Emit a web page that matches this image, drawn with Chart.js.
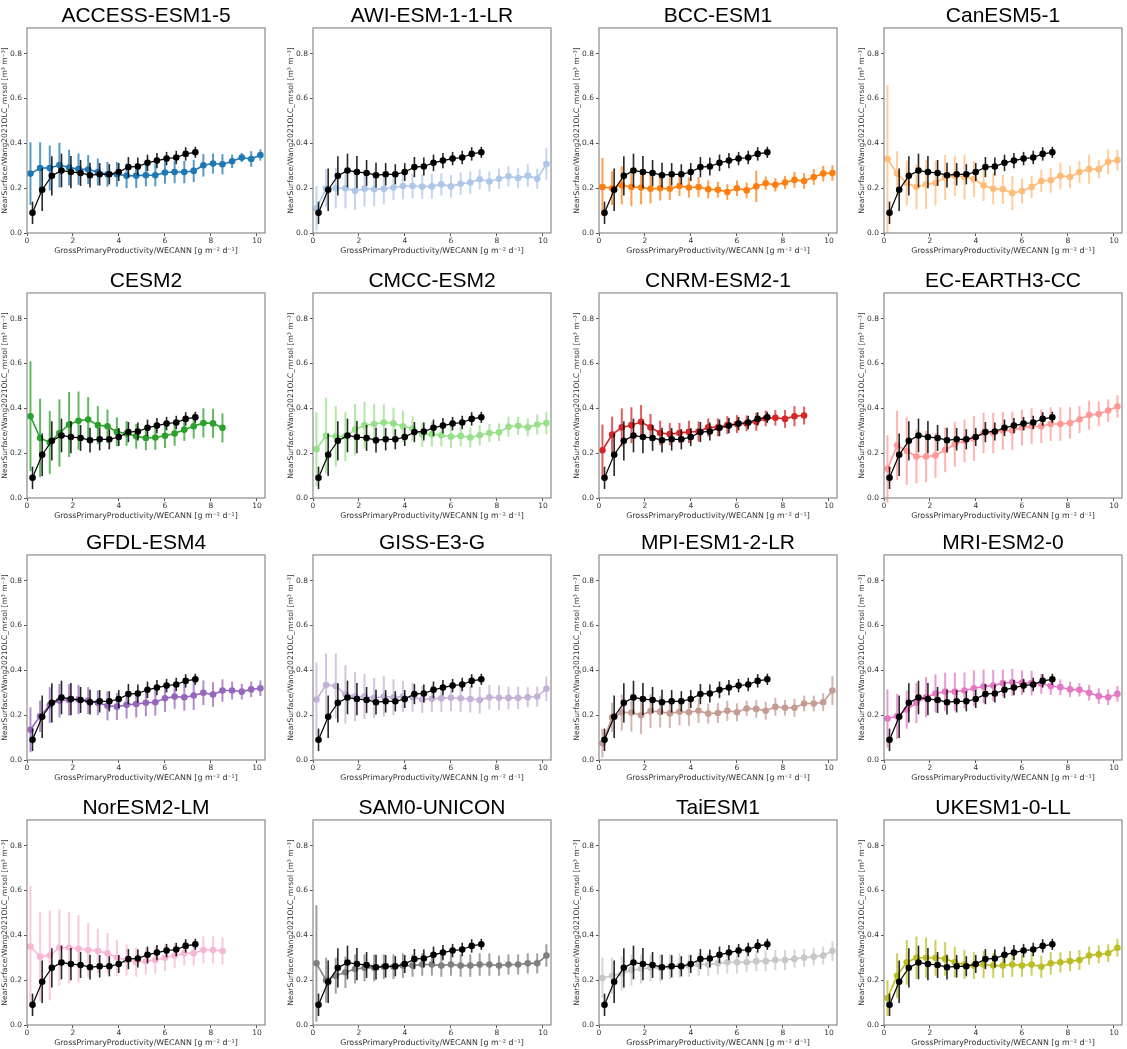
<!DOCTYPE html>
<html>
<head>
<meta charset="utf-8">
<script src="https://cdn.jsdelivr.net/npm/chart.js@4.4.1/dist/chart.umd.min.js"></script>
<style>
  body { margin: 0; background: #fff; width: 1127px; height: 1049px; position: relative; overflow: hidden; }
  .panel { position: absolute; width: 280px; height: 262px; }
</style>
</head>
<body>
<script>
// reference (WECANN) binned curve, same in every panel
const refX = [0.24, 0.66, 1.08, 1.5, 1.91, 2.33, 2.74, 3.16, 3.58, 3.99, 4.41, 4.82, 5.24, 5.65, 6.07, 6.49, 6.9, 7.32];
const refY = [0.09, 0.193, 0.255, 0.279, 0.272, 0.268, 0.258, 0.262, 0.262, 0.272, 0.294, 0.297, 0.313, 0.323, 0.332, 0.337, 0.353, 0.36];
const refErr = [0.05, 0.095, 0.088, 0.075, 0.072, 0.058, 0.055, 0.05, 0.045, 0.04, 0.045, 0.04, 0.037, 0.034, 0.03, 0.03, 0.03, 0.025];

// model bin centres
const modelX = [0.15, 0.57, 0.99, 1.41, 1.83, 2.24, 2.66, 3.08, 3.5, 3.91, 4.33, 4.75, 5.17, 5.58, 6.0, 6.42, 6.84, 7.25, 7.67, 8.09, 8.5, 8.92, 9.34, 9.75, 10.15];

const modelNames = ["ACCESS-ESM1-5", "AWI-ESM-1-1-LR", "BCC-ESM1", "CanESM5-1", "CESM2", "CMCC-ESM2", "CNRM-ESM2-1", "EC-EARTH3-CC",
  "GFDL-ESM4", "GISS-E3-G", "MPI-ESM1-2-LR", "MRI-ESM2-0", "NorESM2-LM", "SAM0-UNICON", "TaiESM1", "UKESM1-0-LL"];
const modelColors = ["#1f77b4", "#aec7e8", "#ff7f0e", "#ffbb78", "#2ca02c", "#98df8a", "#d62728", "#ff9896",
  "#9467bd", "#c5b0d5", "#c49c94", "#e377c2", "#f7b6d2", "#7f7f7f", "#c7c7c7", "#bcbd22"];

const yACCESS = [0.265, 0.29, 0.29, 0.303, 0.292, 0.285, 0.283, 0.272, 0.262, 0.262, 0.255, 0.256, 0.258, 0.258, 0.27, 0.272, 0.272, 0.277, 0.302, 0.31, 0.307, 0.32, 0.337, 0.33, 0.348];
const eACCESS = [0.14, 0.115, 0.1, 0.1, 0.08, 0.07, 0.065, 0.06, 0.055, 0.055, 0.055, 0.055, 0.05, 0.05, 0.05, 0.05, 0.05, 0.05, 0.05, 0.045, 0.045, 0.03, 0.02, 0.035, 0.025];
const yAWI = [0.11, 0.2, 0.2, 0.2, 0.188, 0.198, 0.195, 0.197, 0.203, 0.21, 0.21, 0.207, 0.208, 0.217, 0.208, 0.22, 0.225, 0.24, 0.23, 0.242, 0.253, 0.245, 0.256, 0.242, 0.308];
const eAWI = [0.1, 0.085, 0.09, 0.09, 0.085, 0.08, 0.075, 0.07, 0.055, 0.06, 0.055, 0.055, 0.055, 0.05, 0.05, 0.05, 0.05, 0.045, 0.045, 0.045, 0.045, 0.045, 0.05, 0.045, 0.07];
const yBCC = [0.205, 0.2, 0.213, 0.205, 0.203, 0.197, 0.2, 0.197, 0.21, 0.203, 0.205, 0.195, 0.193, 0.183, 0.2, 0.19, 0.208, 0.222, 0.215, 0.225, 0.237, 0.232, 0.25, 0.265, 0.268];
const eBCC = [0.13, 0.075, 0.085, 0.085, 0.075, 0.065, 0.055, 0.05, 0.045, 0.045, 0.045, 0.04, 0.035, 0.035, 0.035, 0.035, 0.07, 0.03, 0.03, 0.03, 0.035, 0.035, 0.035, 0.035, 0.035];
const yCan = [0.33, 0.265, 0.223, 0.205, 0.217, 0.223, 0.248, 0.255, 0.25, 0.24, 0.213, 0.197, 0.195, 0.178, 0.187, 0.205, 0.232, 0.235, 0.255, 0.25, 0.272, 0.285, 0.285, 0.318, 0.325];
const eCan = [0.33, 0.1, 0.1, 0.1, 0.11, 0.1, 0.1, 0.09, 0.1, 0.08, 0.07, 0.07, 0.065, 0.075, 0.055, 0.05, 0.05, 0.055, 0.06, 0.05, 0.05, 0.065, 0.04, 0.055, 0.045];
const yCESM = [0.365, 0.268, 0.248, 0.29, 0.328, 0.345, 0.35, 0.325, 0.32, 0.295, 0.288, 0.275, 0.268, 0.27, 0.278, 0.288, 0.305, 0.32, 0.335, 0.333, 0.313];
const eCESM = [0.245, 0.175, 0.14, 0.15, 0.145, 0.13, 0.1, 0.085, 0.075, 0.065, 0.055, 0.055, 0.055, 0.055, 0.055, 0.055, 0.05, 0.055, 0.065, 0.065, 0.065];
const yCMCC = [0.218, 0.278, 0.275, 0.275, 0.305, 0.325, 0.33, 0.337, 0.333, 0.32, 0.31, 0.283, 0.285, 0.28, 0.273, 0.277, 0.27, 0.28, 0.29, 0.293, 0.318, 0.322, 0.315, 0.328, 0.335];
const eCMCC = [0.165, 0.17, 0.135, 0.11, 0.115, 0.105, 0.09, 0.08, 0.07, 0.07, 0.055, 0.055, 0.055, 0.05, 0.05, 0.045, 0.045, 0.045, 0.04, 0.04, 0.045, 0.04, 0.04, 0.045, 0.05];
const yCNRM = [0.213, 0.283, 0.315, 0.325, 0.34, 0.315, 0.29, 0.285, 0.29, 0.295, 0.297, 0.315, 0.315, 0.325, 0.33, 0.333, 0.34, 0.355, 0.358, 0.353, 0.365, 0.368];
const eCNRM = [0.115, 0.08, 0.085, 0.08, 0.075, 0.06, 0.055, 0.05, 0.045, 0.05, 0.045, 0.04, 0.04, 0.04, 0.04, 0.035, 0.04, 0.035, 0.035, 0.04, 0.045, 0.04];
const yEC = [0.13, 0.235, 0.21, 0.185, 0.185, 0.19, 0.215, 0.24, 0.255, 0.265, 0.29, 0.29, 0.3, 0.3, 0.315, 0.32, 0.32, 0.33, 0.33, 0.335, 0.35, 0.37, 0.375, 0.39, 0.408];
const eEC = [0.15, 0.155, 0.15, 0.12, 0.115, 0.1, 0.1, 0.1, 0.095, 0.1, 0.09, 0.09, 0.085, 0.085, 0.08, 0.08, 0.075, 0.075, 0.075, 0.07, 0.06, 0.065, 0.055, 0.05, 0.05];
const yGFDL = [0.135, 0.195, 0.245, 0.265, 0.268, 0.27, 0.265, 0.255, 0.242, 0.238, 0.246, 0.25, 0.255, 0.258, 0.275, 0.283, 0.28, 0.288, 0.3, 0.292, 0.31, 0.31, 0.305, 0.315, 0.32];
const eGFDL = [0.1, 0.07, 0.08, 0.075, 0.07, 0.065, 0.06, 0.055, 0.065, 0.06, 0.06, 0.06, 0.06, 0.06, 0.06, 0.055, 0.06, 0.065, 0.055, 0.055, 0.05, 0.04, 0.035, 0.035, 0.035];
const yGISS = [0.27, 0.335, 0.33, 0.293, 0.283, 0.283, 0.277, 0.283, 0.28, 0.283, 0.28, 0.27, 0.273, 0.275, 0.278, 0.275, 0.272, 0.268, 0.28, 0.278, 0.277, 0.277, 0.28, 0.283, 0.318];
const eGISS = [0.165, 0.14, 0.145, 0.13, 0.11, 0.1, 0.09, 0.09, 0.08, 0.07, 0.065, 0.06, 0.06, 0.06, 0.06, 0.06, 0.06, 0.06, 0.055, 0.055, 0.05, 0.05, 0.045, 0.045, 0.055];
const yMPI = [0.075, 0.19, 0.212, 0.212, 0.2, 0.218, 0.215, 0.208, 0.215, 0.213, 0.22, 0.207, 0.21, 0.22, 0.213, 0.23, 0.228, 0.22, 0.237, 0.233, 0.233, 0.252, 0.252, 0.258, 0.31];
const eMPI = [0.065, 0.065, 0.08, 0.085, 0.085, 0.075, 0.07, 0.065, 0.06, 0.06, 0.055, 0.045, 0.045, 0.045, 0.04, 0.035, 0.04, 0.04, 0.04, 0.035, 0.04, 0.035, 0.035, 0.04, 0.065];
const yMRI = [0.185, 0.195, 0.225, 0.255, 0.28, 0.297, 0.305, 0.305, 0.31, 0.32, 0.328, 0.332, 0.343, 0.347, 0.345, 0.343, 0.34, 0.33, 0.325, 0.315, 0.313, 0.3, 0.285, 0.28, 0.295];
const eMRI = [0.13, 0.1, 0.085, 0.09, 0.09, 0.085, 0.085, 0.085, 0.08, 0.08, 0.075, 0.07, 0.06, 0.06, 0.055, 0.055, 0.045, 0.04, 0.035, 0.035, 0.03, 0.035, 0.035, 0.035, 0.035];
const yNor = [0.35, 0.305, 0.31, 0.345, 0.345, 0.34, 0.335, 0.33, 0.32, 0.3, 0.29, 0.28, 0.285, 0.29, 0.3, 0.31, 0.32, 0.32, 0.335, 0.335, 0.33];
const eNor = [0.27, 0.2, 0.2, 0.17, 0.16, 0.15, 0.12, 0.1, 0.09, 0.08, 0.07, 0.065, 0.06, 0.06, 0.06, 0.055, 0.055, 0.055, 0.06, 0.06, 0.06];
const ySAM = [0.275, 0.2, 0.22, 0.235, 0.25, 0.255, 0.255, 0.26, 0.26, 0.265, 0.265, 0.27, 0.27, 0.265, 0.27, 0.265, 0.265, 0.27, 0.27, 0.265, 0.27, 0.27, 0.275, 0.275, 0.31];
const eSAM = [0.26, 0.1, 0.08, 0.07, 0.065, 0.06, 0.06, 0.055, 0.055, 0.055, 0.05, 0.05, 0.05, 0.05, 0.05, 0.05, 0.05, 0.05, 0.05, 0.045, 0.045, 0.045, 0.045, 0.045, 0.05];
const yTai = [0.21, 0.22, 0.23, 0.245, 0.25, 0.255, 0.255, 0.26, 0.265, 0.265, 0.27, 0.27, 0.275, 0.28, 0.28, 0.28, 0.285, 0.285, 0.29, 0.29, 0.295, 0.3, 0.305, 0.31, 0.33];
const eTai = [0.09, 0.08, 0.075, 0.07, 0.065, 0.06, 0.06, 0.055, 0.055, 0.05, 0.05, 0.05, 0.05, 0.05, 0.05, 0.045, 0.045, 0.045, 0.045, 0.045, 0.04, 0.04, 0.04, 0.04, 0.045];
const yUK = [0.12, 0.22, 0.28, 0.3, 0.3, 0.3, 0.295, 0.28, 0.27, 0.265, 0.27, 0.265, 0.265, 0.27, 0.265, 0.27, 0.26, 0.275, 0.28, 0.285, 0.29, 0.31, 0.315, 0.32, 0.345];
const eUK = [0.08, 0.1, 0.1, 0.095, 0.09, 0.08, 0.075, 0.07, 0.065, 0.06, 0.06, 0.055, 0.055, 0.055, 0.05, 0.05, 0.05, 0.05, 0.045, 0.045, 0.045, 0.04, 0.04, 0.04, 0.04];

const modelY = [yACCESS, yAWI, yBCC, yCan, yCESM, yCMCC, yCNRM, yEC, yGFDL, yGISS, yMPI, yMRI, yNor, ySAM, yTai, yUK];
const modelErr = [eACCESS, eAWI, eBCC, eCan, eCESM, eCMCC, eCNRM, eEC, eGFDL, eGISS, eMPI, eMRI, eNor, eSAM, eTai, eUK];

const xTicks = [0, 2, 4, 6, 8, 10];
const yTicks = [0.0, 0.2, 0.4, 0.6, 0.8];

// layout of the 4x4 grid (canvas top-left corners)
const colLeft = [0, 286, 572, 857];
const rowTop = [0, 265, 527, 792];

function rgba(hex, a) {
  const n = parseInt(hex.slice(1), 16);
  return `rgba(${(n >> 16) & 255},${(n >> 8) & 255},${n & 255},${a})`;
}

// vertical error bars, drawn just before each dataset
const errorBars = {
  id: "errorBars",
  beforeDatasetDraw(chart, args) {
    const ds = chart.data.datasets[args.index];
    if (!ds.errors) return;
    const { x, y } = chart.scales;
    const ctx = chart.ctx;
    ctx.save();
    ctx.strokeStyle = ds.errorColor;
    ctx.lineWidth = ds.errorWidth;
    ds.data.forEach((p, i) => {
      const px = x.getPixelForValue(p.x);
      ctx.beginPath();
      ctx.moveTo(px, y.getPixelForValue(p.y - ds.errors[i]));
      ctx.lineTo(px, y.getPixelForValue(p.y + ds.errors[i]));
      ctx.stroke();
    });
    ctx.restore();
  },
};

// box round the plot area
const frame = {
  id: "frame",
  afterDraw(chart) {
    const a = chart.chartArea;
    const ctx = chart.ctx;
    ctx.save();
    ctx.strokeStyle = "#8c8c8c";
    ctx.lineWidth = 1.2;
    ctx.strokeRect(a.left, a.top, a.right - a.left, a.bottom - a.top);
    ctx.restore();
  },
};

const tickFont = { family: "DejaVu Sans", size: 7.5 };

modelNames.forEach((name, k) => {
  const div = document.createElement("div");
  div.className = "panel";
  div.style.left = colLeft[k % 4] + "px";
  div.style.top = rowTop[Math.floor(k / 4)] + "px";
  const cv = document.createElement("canvas");
  cv.width = 280;
  cv.height = 262;
  div.appendChild(cv);
  document.body.appendChild(div);

  const col = modelColors[k];
  const ys = modelY[k];

  new Chart(cv, {
    type: "scatter",
    data: {
      datasets: [
        {
          data: refX.map((x, i) => ({ x, y: refY[i] })),
          errors: refErr,
          errorColor: "rgba(0,0,0,0.85)",
          errorWidth: 1.6,
          showLine: true,
          borderColor: "#000",
          backgroundColor: "#000",
          borderWidth: 1.2,
          pointRadius: 3.3,
          pointBorderWidth: 0,
        },
        {
          data: ys.map((y, i) => ({ x: modelX[i], y })),
          errors: modelErr[k],
          errorColor: rgba(col, 0.75),
          errorWidth: 2,
          showLine: true,
          borderColor: col,
          backgroundColor: col,
          borderWidth: 1.6,
          pointRadius: 3.3,
          pointBorderWidth: 0,
        },
      ],
    },
    options: {
      responsive: false,
      animation: false,
      devicePixelRatio: 1,
      layout: { padding: { left: 0, right: 15, top: 0, bottom: 6 } },
      plugins: {
        legend: { display: false },
        tooltip: { enabled: false },
        title: {
          display: true,
          text: name,
          fullSize: false,
          color: "#000",
          font: { family: "Liberation Sans", size: 21, weight: "normal", lineHeight: 1.15 },
          padding: { top: 3.8, bottom: 0 },
        },
      },
      scales: {
        x: {
          type: "linear",
          min: 0,
          max: 10.35,
          afterBuildTicks: (s) => { s.ticks = xTicks.map((v) => ({ value: v })); },
          afterFit: (s) => { s.height = 23; },
          grid: { display: true, drawOnChartArea: false, drawTicks: true, tickLength: 3, color: "#555" },
          border: { display: false },
          ticks: { font: tickFont, color: "#333", padding: 1, maxRotation: 0 },
          title: {
            display: true,
            text: "GrossPrimaryProductivity/WECANN [g m\u207B\u00B2 d\u207B\u00B9]",
            font: { family: "DejaVu Sans", size: 7.9 },
            color: "#333",
            padding: { top: 0, bottom: 0 },
          },
        },
        y: {
          type: "linear",
          min: 0,
          max: 0.915,
          afterBuildTicks: (s) => { s.ticks = yTicks.map((v) => ({ value: v })); },
          afterFit: (s) => { s.width = 27; },
          grid: { display: true, drawOnChartArea: false, drawTicks: true, tickLength: 3, color: "#555" },
          border: { display: false },
          ticks: { font: tickFont, color: "#333", padding: 2, callback: (v) => v.toFixed(1) },
          title: {
            display: true,
            text: "NearSurface/Wang2021OLC_mrsol [m\u00B3 m\u207B\u00B3]",
            font: { family: "DejaVu Sans", size: 7.6 },
            color: "#333",
            padding: { top: 0, bottom: 0 },
          },
        },
      },
    },
    plugins: [errorBars, frame],
  });
});
</script>
</body>
</html>
